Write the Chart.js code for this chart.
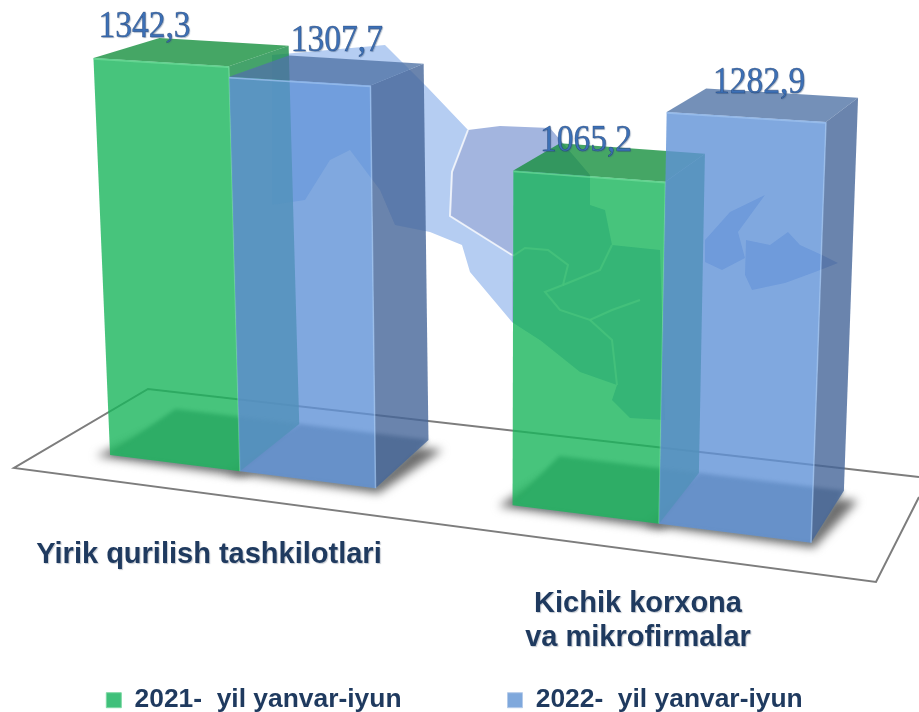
<!DOCTYPE html>
<html>
<head>
<meta charset="utf-8">
<script src="https://cdn.jsdelivr.net/npm/chart.js@4"></script>
<style>
  html, body { margin: 0; padding: 0; background: #fff; }
</style>
</head>
<body>
<canvas id="chart" width="919" height="712"></canvas>
<script>
var categories = ['Yirik qurilish tashkilotlari', 'Kichik korxona va mikrofirmalar'];
var categoryLines = [['Yirik qurilish tashkilotlari'], ['Kichik korxona', 'va mikrofirmalar']];
var seriesNames = ['2021-  yil yanvar-iyun', '2022-  yil yanvar-iyun'];
var values2021 = [1342.3, 1065.2];
var values2022 = [1307.7, 1282.9];

// where the value labels sit relative to the back left corner of the bar top
var labelOffsets = [[[-15, -1], [26, 8]], [[48, -4], [53, 5]]];
var categoryPlaces = [[209, [563]], [638, [612, 646]]];

// green, blue
var faces = [
  { front: 'rgba(25,181,91,0.8)', top: 'rgba(22,144,62,0.8)', side: 'rgba(22,140,70,0.8)', edge: 'rgba(120,225,160,0.6)' },
  { front: 'rgba(96,146,215,0.8)', top: 'rgba(81,116,166,0.8)', side: 'rgba(69,101,152,0.8)', edge: 'rgba(160,195,240,0.7)' }
];

// background map behind the bars, only decoration
var mapLight = [[272,55],[385,45],[428,88],[468,130],[452,172],[450,216],[512,255],[540,280],[540,340],[512,322],[470,272],[462,245],[430,232],[395,225],[380,190],[350,150],[330,160],[305,200],[272,205]];
var mapDark = [[468,130],[500,126],[550,128],[590,175],[590,205],[605,210],[612,245],[660,250],[665,420],[630,418],[612,400],[617,385],[580,372],[540,340],[512,322],[512,255],[450,216],[452,172]];
var mapLake1 = [[705,240],[730,212],[765,195],[738,232],[745,258],[722,270],[705,262]];
var mapLake2 = [[746,240],[770,245],[788,232],[800,245],[822,255],[838,263],[815,272],[785,283],[752,290],[745,275]];
var mapLines = [
  [[468,130],[452,172],[450,216],[512,255]],
  [[513,256],[525,248],[548,250],[568,265],[563,285],[545,292],[560,310],[590,320],[612,310],[640,300]],
  [[563,285],[600,270],[612,245]],
  [[590,320],[612,340],[617,385]]
];
var floorBack = [[919,477],[148,389],[14,468],[876,582],[919,497]];

// the picture is a tilted 3d view, so the flat chart coordinates get warped
function warpX(x) {
  var u = 30.5 + x * 0.9119;
  return u + 0.00014 * (u - 240) * (u - 659);
}

function project(x, value) {
  var xb = warpX(x);
  var yb = 441.25 + 0.125 * xb;
  var k = 0.2958 + (xb - 110) * 0.0000458;
  var h = value * k;
  return { x: 490 + (xb - 490) * (1 + 0.00011 * h), y: yb - h };
}

function toBack(p) {
  return { x: p.x + 66 - (p.x - 94) * 0.0463, y: p.y - (20 + (p.y - 59) * 0.0658) };
}

function poly(ctx, pts, color) {
  ctx.beginPath();
  pts.forEach(function (p, i) {
    if (i == 0) ctx.moveTo(p.x, p.y); else ctx.lineTo(p.x, p.y);
  });
  ctx.closePath();
  ctx.fillStyle = color;
  ctx.fill();
}

function pairs(list) {
  return list.map(function (p) { return { x: p[0], y: p[1] }; });
}

function drawMap(ctx) {
  poly(ctx, pairs(mapLight), '#b5cdf2');
  poly(ctx, pairs(mapDark), '#a3b5df');
  poly(ctx, pairs(mapLake1), '#a8bcec');
  poly(ctx, pairs(mapLake2), '#a8bcec');
  ctx.strokeStyle = 'rgba(255,255,255,0.75)';
  ctx.lineWidth = 2;
  mapLines.forEach(function (line) {
    ctx.beginPath();
    line.forEach(function (p, i) {
      if (i == 0) ctx.moveTo(p[0], p[1]); else ctx.lineTo(p[0], p[1]);
    });
    ctx.stroke();
  });
}

function drawFloor(ctx) {
  ctx.beginPath();
  floorBack.forEach(function (p, i) {
    if (i == 0) ctx.moveTo(p[0], p[1]); else ctx.lineTo(p[0], p[1]);
  });
  ctx.strokeStyle = '#7d7d7d';
  ctx.lineWidth = 2;
  ctx.stroke();
}

// corners of one bar in picture coordinates
function barCorners(chart, el) {
  var yScale = chart.scales.y;
  var perUnit = yScale.height / (yScale.max - yScale.min);
  var value = (el.base - el.y) / perUnit;
  var l = el.x - el.width / 2;
  var r = el.x + el.width / 2;
  var c = {
    bl: project(l, 0), br: project(r, 0),
    tl: project(l, value), tr: project(r, value)
  };
  c.bbl = toBack(c.bl); c.bbr = toBack(c.br);
  c.btl = toBack(c.tl); c.btr = toBack(c.tr);
  return c;
}

function drawBar(ctx, c, face) {
  poly(ctx, [c.tr, c.btr, c.bbr, c.br], face.side);
  poly(ctx, [c.tl, c.btl, c.btr, c.tr], face.top);
  poly(ctx, [c.tl, c.tr, c.br, c.bl], face.front);
  ctx.beginPath();
  ctx.moveTo(c.tl.x, c.tl.y + 1);
  ctx.lineTo(c.tr.x, c.tr.y + 1);
  ctx.lineTo(c.br.x, c.br.y);
  ctx.strokeStyle = face.edge;
  ctx.lineWidth = 1.5;
  ctx.stroke();
}

var scenePlugin = {
  id: 'scene',
  afterLayout: function (chart) {
    // legend padding is the gap between the two items, so put the row back by hand
    var legend = chart.legend;
    var h = legend.bottom - legend.top;
    legend.top = 581;
    legend.bottom = legend.top + h;
    legend.left -= 5;
    legend.right -= 5;
  },
  beforeDatasetsDraw: function (chart) {
    var ctx = chart.ctx;
    ctx.save();
    drawMap(ctx);
    drawFloor(ctx);

    var bars = [];
    chart.data.datasets.forEach(function (ds, i) {
      chart.getDatasetMeta(i).data.forEach(function (el, j) {
        bars.push({ series: i, index: j, corners: barCorners(chart, el) });
      });
    });

    // shadow and floor of the bars
    bars.forEach(function (b) {
      var c = b.corners;
      ctx.filter = 'blur(5px)';
      poly(ctx, [
        { x: c.bl.x - 14, y: c.bl.y + 1 }, { x: c.br.x + 3, y: c.br.y + 5 },
        { x: c.bbr.x + 14, y: c.bbr.y + 10 }, { x: c.bbl.x, y: c.bbl.y + 10 }
      ], '#6e6e6e');
      ctx.filter = 'blur(2px)';
      poly(ctx, [c.bl, c.br, c.bbr, c.bbl], '#818d92');
      ctx.filter = 'none';
    });

    bars.forEach(function (b) {
      drawBar(ctx, b.corners, faces[b.series]);
    });

    // value labels
    bars.forEach(function (b) {
      var value = chart.data.datasets[b.series].data[b.index];
      var off = labelOffsets[b.series][b.index];
      var text = value.toFixed(1).replace('.', ',');
      var x = b.corners.btl.x + off[0];
      var y = b.corners.btl.y + off[1];
      ctx.save();
      ctx.translate(x, y);
      ctx.scale(1, 1.14);
      ctx.font = '33.5px "Liberation Serif"';
      ctx.textAlign = 'center';
      ctx.textBaseline = 'alphabetic';
      ctx.shadowColor = 'rgba(60,90,130,0.45)';
      ctx.shadowBlur = 1;
      ctx.shadowOffsetX = 1;
      ctx.shadowOffsetY = 1;
      ctx.fillStyle = '#3c70b6';
      ctx.fillText(text, 0, 0);
      ctx.shadowColor = 'transparent';
      ctx.lineWidth = 0.5;
      ctx.strokeStyle = 'rgba(25,50,95,0.6)';
      ctx.strokeText(text, 0, 0);
      ctx.restore();
    });

    // category names under the floor
    ctx.font = 'bold 29px "Liberation Sans"';
    ctx.textAlign = 'center';
    ctx.textBaseline = 'alphabetic';
    ctx.shadowColor = 'rgba(90,100,120,0.35)';
    ctx.shadowBlur = 1;
    ctx.shadowOffsetX = 1;
    ctx.shadowOffsetY = 1;
    ctx.fillStyle = '#1f3a5f';
    categoryLines.forEach(function (lines, i) {
      lines.forEach(function (line, n) {
        ctx.fillText(line, categoryPlaces[i][0], categoryPlaces[i][1][n]);
      });
    });
    ctx.restore();
    return false;
  }
};

var options = {
  type: 'bar',
  data: {
    labels: categories,
    datasets: [
      { label: seriesNames[0], data: values2021, backgroundColor: '#3fc07a', borderColor: '#7fd9a5', borderWidth: 1 },
      { label: seriesNames[1], data: values2022, backgroundColor: '#7fa8dc', borderColor: '#b4cbea', borderWidth: 1 }
    ]
  },
  options: {
    responsive: false,
    animation: false,
    categoryPercentage: 0.673,
    barPercentage: 1,
    scales: {
      x: { display: false },
      y: { display: false, min: 0, max: 1500 }
    },
    plugins: {
      tooltip: { enabled: false },
      title: { display: false },
      legend: {
        display: true,
        position: 'bottom',
        labels: {
          color: '#1f3a5f',
          font: { family: '"Liberation Sans"', size: 26.4, weight: 'bold' },
          boxWidth: 15,
          boxHeight: 15,
          padding: 106
        }
      }
    }
  },
  plugins: [scenePlugin]
};

var ctx = document.getElementById('chart').getContext('2d');
new Chart(ctx, options);
</script>
</body>
</html>
